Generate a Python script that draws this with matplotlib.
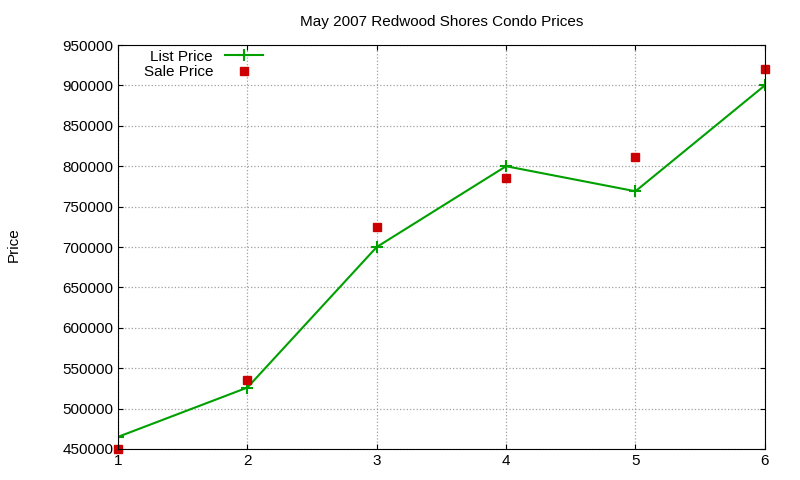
import matplotlib
matplotlib.use("Agg")
import matplotlib.pyplot as plt

x = [1, 2, 3, 4, 5, 6]
list_price = [465000, 526000, 700000, 800000, 769000, 900000]
sale_price = [450000, 535000, 725000, 785000, 811000, 920000]
yticks = list(range(450000, 950001, 50000))

plt.rcParams['font.family'] = ['Liberation Sans', 'DejaVu Sans']
fig = plt.figure(figsize=(8, 4.8), dpi=100)
ax = fig.add_axes([0.1475, 0.0646, 0.8085, 0.8416])
ax.plot(x, list_price, color='#00a000', marker='+', markersize=8, mew=1.5, lw=1.5, label='List Price')
ax.plot(x, sale_price, color='#cc0000', marker='s', markersize=6, ls='none', label='Sale Price', clip_on=False)
ax.set_xlim(1, 6)
ax.set_ylim(450000, 950000)
ax.set_yticks(yticks)
ax.set_xticks(x)
ax.grid(True, color='#a0a0a0', ls=':', lw=0.9)
ax.tick_params(direction='in', labelsize=11, top=True, right=True)
ax.set_title('May 2007 Redwood Shores Condo Prices', fontsize=11, pad=14)
fig.text(0.008, 0.49, 'Price', rotation=90, fontsize=11, va='center')
leg = ax.legend(loc='upper left', bbox_to_anchor=(0.023, 1.015), frameon=False, markerfirst=False, fontsize=11, handlelength=2.5, borderaxespad=0.3, labelspacing=0.1)
fig.savefig('out.png')
